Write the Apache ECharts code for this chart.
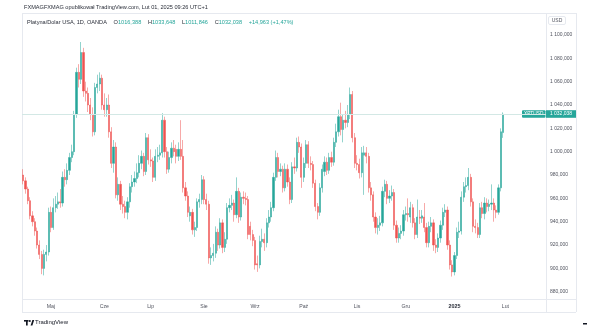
<!DOCTYPE html>
<html>
<head>
<meta charset="utf-8">
<script src="https://cdn.jsdelivr.net/npm/echarts@6/dist/echarts.min.js"></script>
<style>
  html, body { margin: 0; padding: 0; background: #ffffff; }
  #chart { width: 602px; height: 329px; }
</style>
</head>
<body>
<div id="chart"></div>
<script>
// Platinum / US dollar, daily candles (OANDA), 15 Apr 2024 – 31 Jan 2025
const symbol = 'XPTUSD';
const firstDay = '2024-04-15';
const closedDays = ['2024-12-25', '2025-01-01'];
const futureBars = 18;
const monthNames = ['Sty', 'Lut', 'Mar', 'Kwi', 'Maj', 'Cze', 'Lip', 'Sie', 'Wrz', 'Paź', 'Lis', 'Gru'];

const opens = [
  980, 975, 968, 958, 945, 940, 932, 920, 912, 900, 912, 914, 948, 935, 952, 955, 957, 956, 978, 976,
  984, 995, 1000, 1032, 1068, 1062, 1085, 1052, 1050, 1040, 1032, 1017, 1055, 1058, 1063, 1040, 1036, 1040, 1017, 990,
  1004, 963, 972, 955, 953, 948, 957, 970, 974, 977, 982, 990, 996, 983, 1012, 993, 992, 978, 996, 997,
  999, 1027, 1000, 985, 995, 1003, 1002, 996, 1002, 996, 969, 962, 945, 948, 933, 935, 957, 959, 976, 959,
  955, 909, 911, 913, 931, 920, 939, 918, 925, 952, 954, 956, 946, 966, 944, 961, 960, 959, 936, 929,
  924, 904, 903, 923, 925, 922, 939, 944, 952, 978, 995, 983, 985, 969, 985, 974, 959, 987, 986, 1008,
  1004, 978, 990, 1006, 990, 989, 973, 953, 948, 969, 983, 991, 984, 995, 991, 1008, 1017, 1030, 1019, 1027,
  1025, 1032, 1049, 1012, 990, 989, 982, 997, 999, 996, 969, 963, 944, 935, 937, 939, 966, 972, 960, 962,
  965, 937, 926, 930, 932, 946, 947, 944, 952, 939, 929, 944, 943, 944, 935, 922, 936, 939, 920, 918,
  926, 937, 948, 950, 920, 903, 897, 911, 931, 932, 961, 970, 971, 978, 957, 936, 935, 929, 952, 947,
  956, 953, 955, 956, 950, 948, 969, 1016.388
];
const closes = [
  975, 968, 958, 945, 940, 932, 920, 912, 900, 912, 914, 948, 935, 952, 955, 957, 956, 978, 976, 984,
  995, 1000, 1032, 1068, 1062, 1085, 1052, 1050, 1040, 1032, 1017, 1055, 1058, 1063, 1040, 1036, 1040, 1017, 990, 1004,
  963, 972, 955, 953, 948, 957, 970, 974, 977, 982, 990, 996, 983, 1012, 993, 992, 978, 996, 997, 999,
  1027, 1000, 985, 995, 1003, 1000, 996, 1002, 996, 969, 962, 948, 948, 933, 935, 957, 959, 976, 959, 955,
  909, 911, 913, 931, 920, 939, 918, 925, 952, 954, 956, 946, 966, 944, 961, 960, 959, 929, 929, 924,
  903, 903, 923, 925, 922, 939, 944, 952, 978, 995, 983, 985, 969, 985, 974, 959, 987, 986, 1008, 1004,
  978, 990, 1006, 990, 989, 973, 953, 948, 969, 985, 991, 984, 995, 991, 1008, 1017, 1030, 1019, 1027, 1025,
  1032, 1049, 1012, 990, 989, 982, 999, 999, 996, 969, 963, 944, 935, 937, 939, 966, 972, 960, 962, 965,
  937, 926, 930, 932, 946, 947, 946, 952, 939, 929, 944, 943, 945, 935, 922, 936, 939, 920, 918, 926,
  937, 948, 950, 920, 903, 897, 911, 931, 932, 961, 970, 971, 978, 957, 936, 935, 929, 952, 947, 956,
  953, 955, 956, 950, 948, 969, 1017.075, 1032.038
];
const highs = [
  985, 978, 970, 961, 949, 943, 935, 924, 915, 916, 920, 952, 953, 960, 962, 965, 968, 983, 985, 990,
  999, 1006, 1035, 1072, 1075, 1094, 1089, 1060, 1055, 1046, 1038, 1059, 1066, 1068, 1066, 1050, 1046, 1049, 1021, 1010,
  1008, 978, 975, 962, 958, 961, 973, 980, 983, 990, 997, 1001, 999, 1016, 1015, 1002, 995, 1002, 1004, 1006,
  1033, 1030, 1004, 1000, 1008, 1010, 1006, 1008, 1027, 1010, 974, 966, 953, 951, 940, 960, 964, 980, 979, 964,
  958, 918, 921, 936, 934, 943, 942, 931, 956, 960, 963, 959, 978, 969, 965, 966, 965, 962, 940, 933,
  927, 911, 928, 934, 930, 943, 950, 957, 982, 1001, 999, 990, 988, 990, 989, 978, 991, 995, 1012, 1013,
  1007, 995, 1010, 1009, 996, 992, 976, 956, 973, 989, 996, 995, 999, 1000, 1012, 1024, 1036, 1042, 1032, 1035,
  1040, 1055, 1052, 1016, 997, 994, 1004, 1005, 1004, 999, 974, 966, 948, 943, 945, 970, 976, 975, 967, 971,
  968, 941, 935, 937, 950, 953, 960, 957, 955, 943, 959, 950, 950, 956, 939, 940, 944, 942, 925, 930,
  941, 952, 955, 953, 924, 907, 914, 935, 940, 966, 974, 978, 986, 981, 960, 942, 939, 956, 957, 961,
  960, 959, 972, 960, 954, 972, 1020, 1033.648
];
const lows = [
  972, 964, 955, 942, 936, 928, 917, 908, 895, 894, 906, 911, 931, 933, 948, 951, 952, 953, 970, 972,
  980, 991, 997, 1029, 1055, 1058, 1047, 1043, 1034, 1027, 1013, 1014, 1050, 1052, 1036, 1030, 1030, 1012, 986, 982,
  960, 958, 950, 947, 943, 942, 952, 965, 970, 973, 978, 985, 979, 980, 989, 987, 974, 975, 991, 993,
  995, 995, 981, 982, 990, 996, 990, 992, 993, 965, 958, 944, 940, 929, 927, 932, 952, 955, 955, 950,
  904, 903, 906, 909, 915, 917, 913, 914, 921, 948, 950, 940, 943, 939, 941, 955, 954, 925, 924, 919,
  899, 897, 900, 918, 915, 918, 935, 940, 949, 975, 978, 979, 965, 966, 970, 955, 956, 981, 983, 999,
  969, 974, 986, 986, 984, 969, 949, 942, 945, 965, 979, 980, 981, 987, 988, 1004, 1013, 1014, 1008, 1020,
  1021, 1028, 1008, 986, 984, 977, 978, 963, 990, 965, 958, 940, 930, 929, 932, 936, 961, 955, 956, 958,
  933, 922, 922, 925, 928, 941, 940, 939, 935, 925, 926, 938, 939, 931, 918, 918, 931, 915, 913, 914,
  922, 933, 944, 916, 899, 893, 894, 908, 926, 929, 957, 965, 967, 953, 931, 930, 926, 926, 943, 942,
  948, 949, 950, 940, 943, 946, 966, 1011.846
];

const font = 'Liberation Sans, Arial, sans-serif';
const upColor = '#26a69a';
const downColor = '#ef5350';
const frameColor = '#e6e9ef';

function tradingDays(start, count) {
  const out = [];
  const d = new Date(start + 'T00:00:00Z');
  while (out.length < count) {
    const wd = d.getUTCDay();
    const s = d.toISOString().slice(0, 10);
    if (wd !== 0 && wd !== 6 && !closedDays.includes(s)) out.push(s);
    d.setUTCDate(d.getUTCDate() + 1);
  }
  return out;
}

function fmtPrice(v) {
  const parts = v.toFixed(3).split('.');
  return parts[0].replace(/\B(?=(\d{3})+(?!\d))/g, ' ') + ',' + parts[1];
}
function fmtPlain(v) { return v.toFixed(3).replace('.', ','); }

const dates = tradingDays(firstDay, opens.length + futureBars);
const candles = opens.map((o, i) => [o, closes[i], lows[i], highs[i]]);
const n = opens.length;
const lastOpen = opens[n - 1], lastClose = closes[n - 1];
const lastHigh = highs[n - 1], lastLow = lows[n - 1];
const change = lastClose - closes[n - 2];
const changePct = change / closes[n - 2] * 100;

const chart = echarts.init(document.getElementById('chart'), null, { renderer: 'canvas' });

chart.setOption({
  animation: false,
  backgroundColor: '#ffffff',
  grid: [
    { left: 22, right: 56, top: 11.66, height: 303.4 },
    { left: 22, right: 56, top: 300, height: 1 }
  ],
  xAxis: [
    {
      gridIndex: 0, type: 'category', data: dates, boundaryGap: true,
      axisLine: { show: false }, axisTick: { show: false }, axisLabel: { show: false },
      splitLine: { show: false }
    },
    {
      gridIndex: 1, type: 'category', data: dates, boundaryGap: true,
      axisLine: { show: false }, axisTick: { show: false }, splitLine: { show: false },
      axisLabel: {
        margin: 3, fontSize: 5.2, color: '#50535e', fontFamily: font,
        interval: (idx, value) => idx > 0 && value.slice(5, 7) !== dates[idx - 1].slice(5, 7),
        formatter: value => {
          const m = +value.slice(5, 7);
          return m === 1 ? '{y|' + value.slice(0, 4) + '}' : monthNames[m - 1];
        },
        rich: { y: { fontWeight: 'bold', fontSize: 5.4, color: '#2a2e39', fontFamily: font } }
      }
    }
  ],
  yAxis: [
    {
      gridIndex: 0, type: 'value', position: 'right', min: 860, max: 1120, interval: 20,
      axisLine: { show: false }, axisTick: { show: false }, splitLine: { show: false },
      axisLabel: {
        margin: 4, align: 'left', fontSize: 5, color: '#50535e', fontFamily: font,
        formatter: v => (v < 880 || v > 1100) ? '' : fmtPrice(v)
      }
    },
    { gridIndex: 1, type: 'value', show: false }
  ],
  series: [{
    type: 'candlestick',
    xAxisIndex: 0, yAxisIndex: 0,
    data: candles,
    barWidth: 1.7,
    itemStyle: {
      color: upColor, color0: downColor,
      borderColor: upColor, borderColor0: downColor,
      borderWidth: 0.5
    },
    markLine: {
      silent: true, symbol: 'none',
      label: { show: false },
      lineStyle: { color: '#d3e8e5', width: 1, type: 'solid' },
      data: [{ yAxis: lastClose }]
    }
  }]
});

// price tags and page furniture
const tagY = Math.round(chart.convertToPixel({ yAxisIndex: 0 }, lastClose));
const legendRich = {
  n: { fontSize: 5.6, fill: '#2a2e39', fontFamily: font },
  k: { fontSize: 5.6, fill: '#2a2e39', fontFamily: font },
  v: { fontSize: 5.6, fill: upColor, fontFamily: font }
};
const sign = change >= 0 ? '+' : '';

chart.setOption({
  graphic: [
    // pane frame
    { type: 'line', shape: { x1: 22, y1: 13.5, x2: 576, y2: 13.5 }, style: { stroke: frameColor, lineWidth: 1 }, silent: true },
    { type: 'line', shape: { x1: 22.5, y1: 13, x2: 22.5, y2: 312 }, style: { stroke: frameColor, lineWidth: 1 }, silent: true },
    { type: 'line', shape: { x1: 546.5, y1: 13, x2: 546.5, y2: 312 }, style: { stroke: frameColor, lineWidth: 1 }, silent: true },
    { type: 'line', shape: { x1: 576.5, y1: 13, x2: 576.5, y2: 312 }, style: { stroke: frameColor, lineWidth: 1 }, silent: true },
    { type: 'line', shape: { x1: 22, y1: 299.5, x2: 576, y2: 299.5 }, style: { stroke: frameColor, lineWidth: 1 }, silent: true },
    { type: 'line', shape: { x1: 22, y1: 312.5, x2: 576, y2: 312.5 }, style: { stroke: frameColor, lineWidth: 1 }, silent: true },
    // header
    {
      type: 'text', left: 24, top: 4,
      style: { text: 'FXMAGFXMAG opublikował TradingView.com, Lut 01, 2025 09:26 UTC+1', fontSize: 5.6, fill: '#2a2e39', fontFamily: font }
    },
    {
      type: 'text', left: 27, top: 16,
      style: {
        text: '{n|Platyna/Dolar USA, 1D, OANDA}  {k|O}{v|' + fmtPlain(lastOpen) + '}  {k|H}{v|' + fmtPlain(lastHigh) +
          '}  {k|L}{v|' + fmtPlain(lastLow) + '}  {k|C}{v|' + fmtPlain(lastClose) + '}  {v|' + sign + fmtPlain(change) +
          ' (' + sign + changePct.toFixed(2).replace('.', ',') + '%)}',
        rich: legendRich
      }
    },
    // currency box
    { type: 'rect', shape: { x: 548.5, y: 16.5, width: 17, height: 8, r: 1.5 }, style: { fill: '#ffffff', stroke: '#e0e3eb', lineWidth: 0.8 }, silent: true },
    { type: 'text', x: 557, y: 20.5, style: { text: 'USD', fontSize: 5, fill: '#50535e', fontFamily: font, align: 'center', verticalAlign: 'middle' } },
    // last price tags
    { type: 'rect', shape: { x: 522, y: tagY - 3.8, width: 23.5, height: 7.6, r: 1 }, style: { fill: upColor }, silent: true },
    { type: 'text', x: 533.7, y: tagY, style: { text: symbol, fontSize: 4.8, fill: '#ffffff', fontFamily: font, align: 'center', verticalAlign: 'middle' } },
    { type: 'rect', shape: { x: 546, y: tagY - 3.8, width: 30, height: 7.6 }, style: { fill: upColor }, silent: true },
    { type: 'text', x: 561, y: tagY, style: { text: fmtPrice(lastClose), fontSize: 5, fill: '#ffffff', fontFamily: font, align: 'center', verticalAlign: 'middle' } },
    // footer logo
    { type: 'rect', shape: { x: 24, y: 320, width: 4.5, height: 1.6 }, style: { fill: '#131722' }, silent: true },
    { type: 'rect', shape: { x: 26, y: 320, width: 1.7, height: 5.5 }, style: { fill: '#131722' }, silent: true },
    { type: 'circle', shape: { cx: 29.8, cy: 321, r: 1 }, style: { fill: '#131722' }, silent: true },
    { type: 'polygon', shape: { points: [[30.6, 325.5], [32.4, 320], [34.2, 320], [32.4, 325.5]] }, style: { fill: '#131722' }, silent: true },
    { type: 'text', left: 35, top: 319.5, style: { text: 'TradingView', fontSize: 6, fill: '#131722', fontFamily: font } },
    { type: 'rect', shape: { x: 583, y: 323, width: 4, height: 1.5 }, style: { fill: '#131722' }, silent: true }
  ]
});
</script>
</body>
</html>
